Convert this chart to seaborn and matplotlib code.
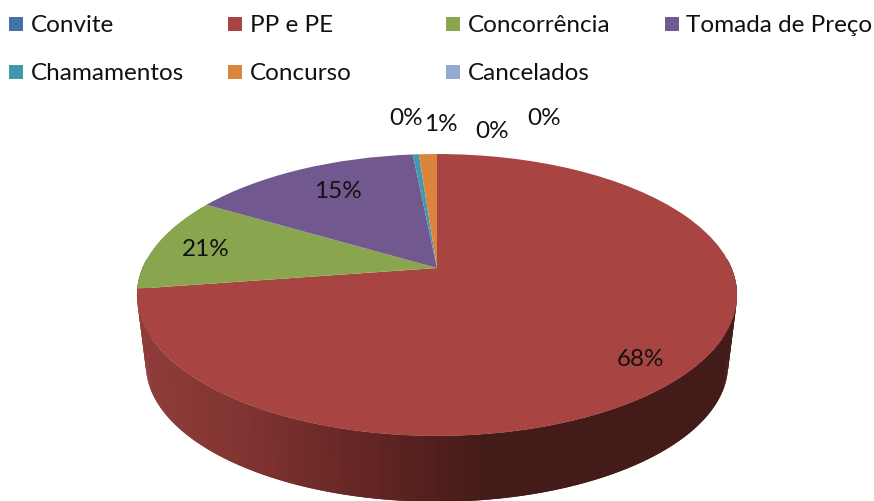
import numpy as np
import matplotlib
matplotlib.use("Agg")
import matplotlib.pyplot as plt
from matplotlib.colors import LinearSegmentedColormap
from matplotlib.patches import Rectangle
from matplotlib.transforms import Transform
import seaborn as sns

# Data (wedge shares, printed labels kept as shown)
categories = ["Convite", "PP e PE", "Concorrência", "Tomada de Preço",
              "Chamamentos", "Concurso", "Cancelados"]
shares = [0, 72.6, 10.9, 14.9, 0.39, 1.17, 0]
labels = ["0%", "68%", "21%", "15%", "0%", "1%", "0%"]
label_x = [492, 641, 206, 338, 406, 441, 544]
label_y = [132, 360, 250, 192, 118, 124, 118]
colors = ["#4572A7", "#A84442", "#89A54E", "#71588F", "#4198AF", "#DB843D", "#93A9CF"]

W, H = 874, 501
APEX_X, APEX_Y = 437, 268
TILT = 0.1915
SCALE_X, SCALE_Y = 294.5, 135.8


def project(u, v):
    # tilted disc seen in perspective, unit circle -> pixels
    d = 1 + TILT * v
    return APEX_X + SCALE_X * u / d, APEX_Y - SCALE_Y * v / d


class Tilt(Transform):
    input_dims = 2
    output_dims = 2
    has_inverse = False

    def transform_non_affine(self, values):
        x, y = project(values[:, 0], values[:, 1])
        return np.column_stack([x, y])


sns.set_theme(style="white")
plt.rcParams["font.family"] = ["Lato", "DejaVu Sans"]
palette = sns.color_palette(colors)

fig = plt.figure(figsize=(W / 100, H / 100), dpi=100)
ax = fig.add_axes([0, 0, 1, 1])

wedges, _ = ax.pie(shares, colors=palette, startangle=90, counterclock=False)
for w in wedges:
    w.set_transform(Tilt() + ax.transData)
    w.set_zorder(3)
    w.set_linewidth(0)
    w.set_clip_on(False)

ax.set_aspect("auto")
ax.set_xlim(0, W)
ax.set_ylim(H, 0)
ax.axis("off")

# Side of the disc, only the red slice shows there
rim_cmap = LinearSegmentedColormap.from_list(
    "rim", ["#8F3D3A", "#7E322F", "#622523", "#431B18", "#431B18"])
angles = np.radians(np.linspace(176, 364, 260))
top_x, top_y = project(np.cos(angles), np.sin(angles))
bot_x = 437 + (top_x - 437) * 0.97
bot_y = 365 + (top_y - 295) * 0.97
for i in range(len(angles) - 2):
    c = rim_cmap(np.clip((top_x[i] - 140) / 460, 0, 1))
    # each strip runs under the next one so no seams show
    ax.fill([top_x[i], top_x[i + 2], bot_x[i + 2], bot_x[i]],
            [top_y[i], top_y[i + 2], bot_y[i + 2], bot_y[i]],
            color=c, lw=0, zorder=2)

# Percent labels
for lab, x, y in zip(labels, label_x, label_y):
    ax.text(x, y, lab, ha="center", va="center", fontsize=17.5, color="#111111", zorder=5)

# Legend, two rows of fixed columns
for i, name in enumerate(categories):
    col = i % 4
    row = i // 4
    x = 9 + col * 218.5
    y = 24 + row * 48
    ax.add_patch(Rectangle((x, y - 7), 14, 14, color=palette[i], lw=0))
    ax.text(x + 22, y + 1, name, ha="left", va="center", fontsize=17.5, color="#111111")

fig.savefig("out.png", dpi=100)
